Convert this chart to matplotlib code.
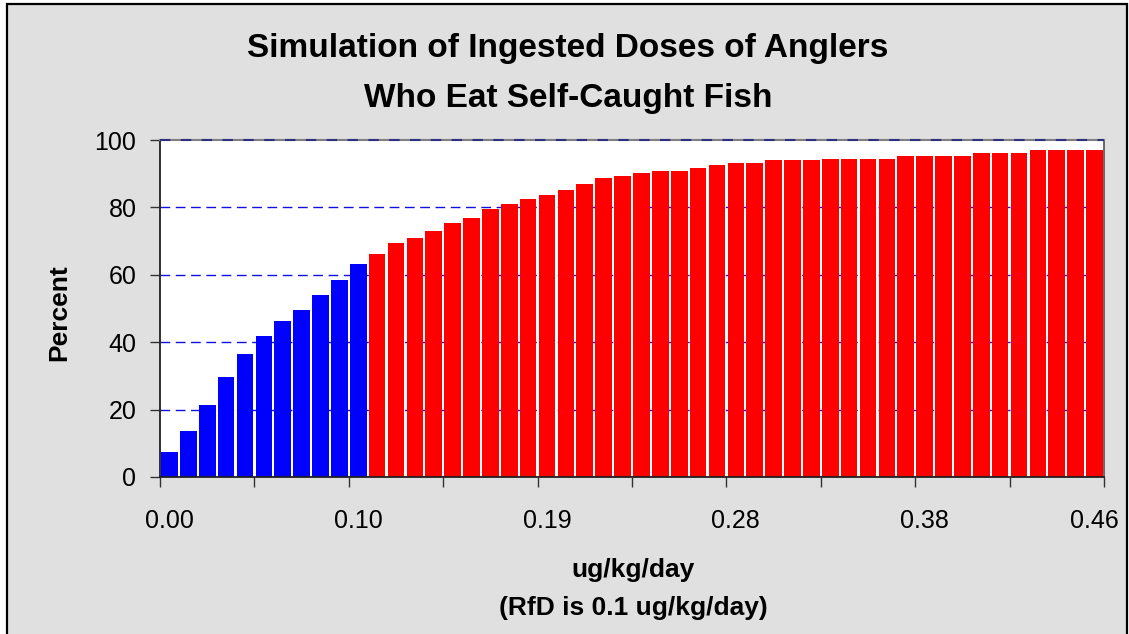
import matplotlib
matplotlib.use("Agg")
import matplotlib.pyplot as plt
from matplotlib.patches import Rectangle

# ---- data ----
percent_values = [7.4, 13.7, 21.4, 29.7, 36.6, 41.9, 46.4, 49.7, 54.1, 58.6, 63.3,
                  66.3, 69.3, 70.8, 73.1, 75.5, 77.0, 79.4, 80.9, 82.4, 83.8, 85.3,
                  86.8, 88.6, 89.2, 90.1, 90.7, 90.7, 91.6, 92.5, 93.1, 93.1, 94.0,
                  94.0, 94.0, 94.5, 94.5, 94.5, 94.5, 95.4, 95.4, 95.4, 95.4, 96.0,
                  96.0, 96.0, 96.9, 96.9, 96.9, 96.9]
n_below_rfd = 11  # bars at or below the RfD (blue)
x_label_bars = [0, 10, 20, 30, 40, 49]          # which bars carry a label
x_tick_labels = ["0.00", "0.10", "0.19", "0.28", "0.38", "0.46"]
y_ticks = [0, 20, 40, 60, 80, 100]

title_lines = ["Simulation of Ingested Doses of Anglers", "Who Eat Self-Caught Fish"]
xlabel_lines = ["ug/kg/day", "(RfD is 0.1 ug/kg/day)"]
ylabel = "Percent"

plt.rcParams['font.family'] = ['Liberation Sans', 'DejaVu Sans']

W, H = 1129, 634
fig = plt.figure(figsize=(W / 100, H / 100), dpi=100)
fig.patch.set_facecolor("white")

# outer chart frame
fig.patches.append(Rectangle((7 / W, -0.05), (1127 - 7) / W, 1.05 - 4 / H,
                             transform=fig.transFigure, facecolor="#E0E0E0",
                             edgecolor="black", linewidth=1.6, zorder=-10))

ax = fig.add_axes([160 / W, 1 - 477 / H, (1104 - 160) / W, (477 - 140) / H])
ax.set_zorder(1)
ax.set_facecolor("white")

n = len(percent_values)
xs = [i + 0.5 for i in range(n)]
colors = ["#0000FF" if i < n_below_rfd else "#FF0000" for i in range(n)]
ax.bar(xs, percent_values, width=0.88, color=colors, linewidth=0, zorder=2)

ax.set_xlim(0, n)
ax.set_ylim(0, 100)

ax.set_yticks(y_ticks)
ax.set_yticklabels([str(v) for v in y_ticks], fontsize=18)
# tick marks at category boundaries (every 5 bars), labels under bar centres
ax.set_xticks(list(range(0, n + 1, 5)))
ax.set_xticklabels([])
ax.set_xticks([xs[i] for i in x_label_bars], minor=True)
ax.set_xticklabels(x_tick_labels, minor=True, fontsize=18)
ax.tick_params(axis="y", direction="out", length=7, width=1, pad=10, colors="#333333",
               labelcolor="black")
ax.tick_params(axis="x", which="major", direction="out", length=7, width=1,
               colors="#333333")
ax.tick_params(axis="x", which="minor", length=0, pad=23, labelcolor="black")

# dashed gridlines
for v in y_ticks[1:-1]:
    ax.axhline(v, color="#1010E0", linewidth=1.0, linestyle=(0, (7, 4)), zorder=1)
ax.axhline(100, color="#808080", linewidth=1.5, zorder=3, clip_on=False)
ax.axhline(100, color="#303080", linewidth=1.5, linestyle=(0, (5, 5)), zorder=4,
           clip_on=False)

for s in ["left", "bottom"]:
    ax.spines[s].set_color("#202020")
    ax.spines[s].set_linewidth(1.3)
ax.spines["right"].set_color("#505050")
ax.spines["right"].set_linewidth(1.2)
ax.spines["top"].set_visible(False)

# titles and labels
fig.text(0.5 * (1 + 7 / W), 1 - 57 / H, title_lines[0], ha="center", va="baseline",
         fontsize=24, fontweight="bold")
fig.text(0.5 * (1 + 7 / W), 1 - 107 / H, title_lines[1], ha="center", va="baseline",
         fontsize=24, fontweight="bold")
fig.text(633 / W, 1 - 577 / H, xlabel_lines[0], ha="center", va="baseline",
         fontsize=19, fontweight="bold")
fig.text(633 / W, 1 - 615 / H, xlabel_lines[1], ha="center", va="baseline",
         fontsize=19, fontweight="bold")
fig.text(59 / W, 1 - 313 / H, ylabel, ha="center", va="center", rotation=90,
         fontsize=19, fontweight="bold")

fig.savefig("out.png", dpi=100, facecolor=fig.get_facecolor())
